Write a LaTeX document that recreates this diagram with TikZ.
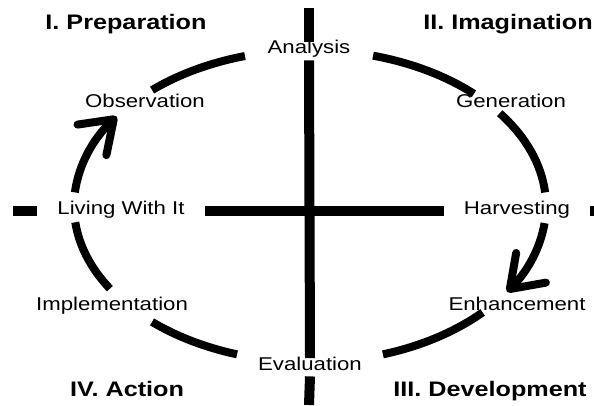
\documentclass[tikz,border=0pt]{standalone}
\usepackage{fontspec}
\setmainfont{Liberation Sans}[FakeStretch=1.2]
\usetikzlibrary{arrows.meta}

\tikzset{
  lbl/.style={font=\fontsize{18.5}{20}\selectfont, anchor=base, inner sep=3pt},
  axislbl/.style={lbl, text height=.86em, text depth=.32em},
  midlbl/.style={lbl, text height=.86em, text depth=.2em, inner xsep=20pt},
  phase/.style={font=\fontsize{21}{23}\selectfont\bfseries, anchor=base, inner sep=0pt},
  bar/.style={line width=10pt},
  ring/.style={line width=8pt},
  cyclearrow/.style={ring, -{Straight Barb[length=30pt, width=42pt, round]}}
}

\begin{document}
\begin{tikzpicture}[x=1pt, y=1pt]
  \useasboundingbox (0,0) rectangle (594,405);

  % centre of the cycle
  \coordinate (O) at (310,199);

  % quadrant titles
  \node[phase] (prep) at (126,375) {I. Preparation};
  \node[phase] (imag) at (508,375) {II. Imagination};
  \node[phase] (dev)  at (490,9)   {III. Development};
  \node[phase] (act)  at (127,9)   {IV. Action};

  % stages on the cycle
  \node[axislbl] (analysis)   at (309,351) {Analysis};
  \node[axislbl] (evaluation) at (310,35)  {Evaluation};
  \node[midlbl]  (living)     at (121,191) {Living With It};
  \node[midlbl]  (harvest)    at (517,191) {Harvesting};
  \node[lbl] (observation)    at (145,297) {Observation};
  \node[lbl] (generation)     at (511,297) {Generation};
  \node[lbl] (implementation) at (112,95)  {Implementation};
  \node[lbl] (enhancement)    at (517,95)  {Enhancement};

  % axes
  \coordinate (vtop) at (309,397);
  \coordinate (vbot) at (309,0);
  \coordinate (hleft) at (13,0);
  \coordinate (hright) at (594,0);
  \draw[bar] (vtop) -- (analysis.north);
  \draw[bar] (analysis.south) -- (evaluation.north);
  \draw[bar] (evaluation.south) -- (vbot);
  \draw[bar] (living.west -| hleft) -- (living.west);
  \draw[bar] (living.east) -- (harvest.west);
  \draw[bar] (harvest.east) -- (harvest.east -| hright);

  % elliptical cycle, broken at each stage
  \foreach \a/\b in {106/132, 46/74.5, 5/36.5, -43/-72, -108/-132, -148/-174}
    \draw[ring] (O) ++(\a:236pt and 156pt)
      arc[start angle=\a, end angle=\b, x radius=236pt, y radius=156pt];

  % direction arrows
  \draw[cyclearrow] (O) ++(-6.3:236pt and 156pt)
    arc[start angle=-6.3, end angle=-33.4, x radius=236pt, y radius=156pt];
  \draw[cyclearrow] (O) ++(175:236pt and 156pt)
    arc[start angle=175, end angle=145, x radius=236pt, y radius=156pt];
\end{tikzpicture}
\end{document}
